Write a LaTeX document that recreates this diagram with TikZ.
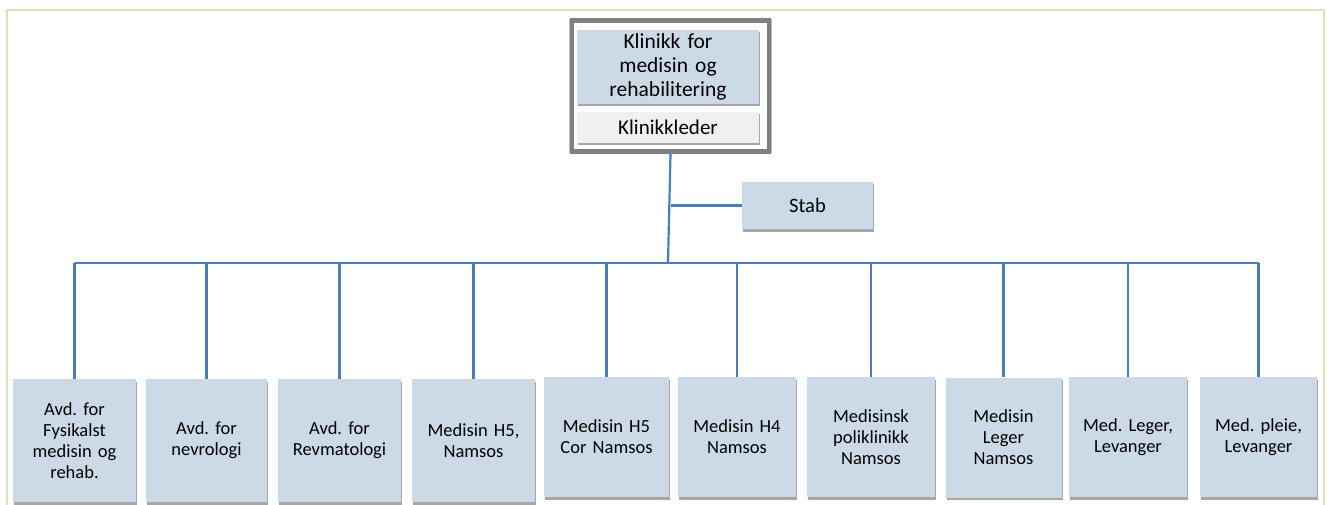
\documentclass[tikz,border=0pt]{standalone}
\usepackage{fontspec}
\setmainfont{Carlito}
\frenchspacing
\usetikzlibrary{shadows}
\definecolor{unitfill}{RGB}{204,218,231}
\definecolor{leadfill}{RGB}{240,240,240}
\definecolor{linkblue}{RGB}{74,126,187}
\definecolor{framegreen}{RGB}{215,228,189}
\definecolor{headframe}{RGB}{128,128,128}
\tikzset{
  boxshadow/.style={drop shadow={shadow xshift=1pt,shadow yshift=-2.5pt,fill=black,opacity=0.35}},
  unit/.style={fill=unitfill,boxshadow,align=center,inner sep=2pt,
    font=\fontsize{18.5}{21}\selectfont,text width=#1},
  unit/.default=112pt,
  link/.style={draw=linkblue,line width=2.2pt},
}
\begin{document}
\begin{tikzpicture}[x=1pt,y=-1pt]
\useasboundingbox (0,0) rectangle (1327,505);
% outer page frame
\draw[framegreen,line width=2.2pt] (7,505) -- (7,10) -- (1324,10) -- (1324,505);

% clinic head with its leader
\node[draw=headframe,line width=4.5pt,fill=white,minimum width=197pt,minimum height=131pt,
  drop shadow={shadow xshift=0pt,shadow yshift=0pt,shadow scale=1.03,fill=black,opacity=0.25}]
  (frame) at (670.5,86) {};
\node[unit=178pt,minimum width=182pt,minimum height=74pt,
  font=\fontsize{21.5}{24}\selectfont] (head) at (668,67)
  {Klinikk for\\medisin og\\rehabilitering};
\node[fill=leadfill,boxshadow,minimum width=182pt,minimum height=31pt,
  font=\fontsize{21}{24}\selectfont] (lead) at (668,127.5) {Klinikkleder};

% staff
\node[unit=120pt,minimum width=131pt,minimum height=47pt,
  font=\fontsize{20.5}{24}\selectfont] (stab) at (807.5,205.5) {Stab};

% departments
\node[unit,minimum width=123pt,minimum height=123pt] (b1) at (74.5,440.5)
  {Avd. for\\Fysikalst\\medisin og\\rehab.};
\node[unit,minimum width=121pt,minimum height=123pt] (b2) at (206.5,440.5)
  {Avd. for\\nevrologi};
\node[unit,minimum width=123pt,minimum height=123pt] (b3) at (339.5,440.5)
  {Avd. for\\Revmatologi};
\node[unit,minimum width=123pt,minimum height=123pt] (b4) at (473.5,440.5)
  {Medisin H5,\\Namsos};
\node[unit,minimum width=125pt,minimum height=120pt] (b5) at (606.5,437)
  {Medisin H5\\Cor Namsos};
\node[unit,minimum width=118pt,minimum height=120pt] (b6) at (737,437)
  {Medisin H4\\Namsos};
\node[unit,minimum width=128pt,minimum height=120pt] (b7) at (871,437)
  {Medisinsk\\poliklinikk\\Namsos};
\node[unit,minimum width=115pt,minimum height=120pt] (b8) at (1003.5,437.5)
  {Medisin\\Leger\\Namsos};
\node[unit,minimum width=118pt,minimum height=120pt] (b9) at (1128,437)
  {Med. Leger,\\Levanger};
\node[unit,minimum width=117pt,minimum height=120pt] (b10) at (1258.5,437)
  {Med. pleie,\\Levanger};

% connectors
\coordinate (bus) at (668,263);
\draw[link] (frame.south) -- (bus);
\draw[link] (stab.west) -- (stab.west -| frame.south);
\draw[link] (b1.north |- bus) -- (b10.north |- bus);
\foreach \b in {b1,b2,b3,b4,b5,b6,b7,b8,b9,b10}
  \draw[link] (\b.north) -- (\b.north |- bus);
\end{tikzpicture}
\end{document}
